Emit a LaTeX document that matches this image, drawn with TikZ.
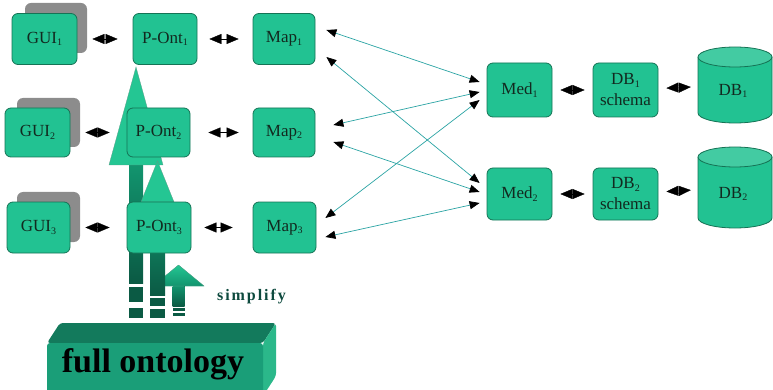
\documentclass[tikz,border=0pt]{standalone}
\usepackage{fontspec}
\setmainfont{Liberation Serif}
\newfontfamily\simpfont[LetterSpace=12]{Liberation Serif Bold}
\usetikzlibrary{calc,arrows.meta}

\definecolor{boxfill}{HTML}{22C292}
\definecolor{boxedge}{HTML}{157355}
\definecolor{boxtext}{HTML}{12291F}
\definecolor{shadowgray}{HTML}{8C8C8C}
\definecolor{linkcol}{HTML}{2AA3A3}
\definecolor{headgreen}{HTML}{24C693}
\definecolor{stemtop}{HTML}{12946E}
\definecolor{stembot}{HTML}{0B5A44}
\definecolor{cubefront}{HTML}{1A9E78}
\definecolor{cubetop}{HTML}{137A5C}
\definecolor{cuberight}{HTML}{2BB88A}
\definecolor{simplifycol}{HTML}{0E4A3E}

% lowered small index digit
\newcommand\idx[1]{\raisebox{-0.35ex}{\fontsize{10}{10}\selectfont #1}}

\begin{document}
\begin{tikzpicture}[x=1pt,y=-1pt,
  box/.style={draw=boxedge, line width=0.8pt, fill=boxfill, rounded corners=6pt,
    inner sep=0pt, text=boxtext, align=center, font=\fontsize{17}{20}\selectfont},
  biarrow/.style={line width=0.3pt,
    {Triangle[length=12pt,width=10pt]}-{Triangle[length=12pt,width=10pt]}},
  link/.style={draw=linkcol, line width=0.7pt,
    {Triangle[length=10pt,width=8pt,color=black]}-{Triangle[length=10pt,width=8pt,color=black]}},
  stem/.style={top color=stemtop, bottom color=stembot, draw=none},
  head/.style={fill=headgreen, draw=boxedge!70, line width=0.3pt},
  stripe/.style={fill=stembot, draw=none}
]
\useasboundingbox (0,0) rectangle (773,390);
\clip (0,0) rectangle (773,390);

% window stacks behind the GUI boxes
\fill[shadowgray, rounded corners=6pt] (25,3) rectangle (87,53);
\fill[shadowgray, rounded corners=6pt] (17,98) rectangle (80,147);
\fill[shadowgray, rounded corners=6pt] (17,192) rectangle (80,242);

% simplify arrows (striped block arrows)
% small arrow
\fill[stem] (172.5,286) rectangle (184.5,306);
\fill[stripe] (172.5,308) rectangle (184.5,311);
\fill[stripe] (172.5,313) rectangle (184.5,316);
\path[head, top color=headgreen, bottom color=stemtop] (153,286) -- (178.5,265) -- (204,286) -- cycle;
% long arrow to P-Ont1
\fill[stem] (129,165) rectangle (143,283);
\fill[stripe] (129,287) rectangle (143,302);
\fill[stripe] (129,308) rectangle (143,318);
\path[head] (109,165) -- (136,67) -- (163,165) -- cycle;
% arrow to P-Ont2
\fill[stem] (150,202) rectangle (165,295);
\fill[stripe] (150,298) rectangle (165,306);
\fill[stripe] (150,309) rectangle (165,318);
\path[head] (141,202) -- (157.5,161) -- (174,202) -- cycle;

% GUI / P-Ont / Map rows
\node[box, minimum width=65pt, minimum height=51pt] (gui1) at (44.5,39) {GUI\idx{1}};
\node[box, minimum width=64pt, minimum height=51pt] (po1) at (165,39) {P-Ont\idx{1}};
\node[box, minimum width=62pt, minimum height=51pt] (map1) at (284,39) {Map\idx{1}};

\node[box, minimum width=65pt, minimum height=49pt] (gui2) at (37.5,132.5) {GUI\idx{2}};
\node[box, minimum width=63pt, minimum height=49pt] (po2) at (158.5,132.5) {P-Ont\idx{2}};
\node[box, minimum width=62pt, minimum height=49pt] (map2) at (284,132.5) {Map\idx{2}};

\node[box, minimum width=63pt, minimum height=51pt] (gui3) at (38.5,227.5) {GUI\idx{3}};
\node[box, minimum width=64pt, minimum height=51pt] (po3) at (159,227.5) {P-Ont\idx{3}};
\node[box, minimum width=63pt, minimum height=51pt] (map3) at (284.5,227.5) {Map\idx{3}};

% mediators and schemas
\node[box, minimum width=65pt, minimum height=54pt] (med1) at (519.5,90) {Med\idx{1}};
\node[box, minimum width=65pt, minimum height=52pt] (med2) at (519.5,194) {Med\idx{2}};
\node[box, minimum width=65pt, minimum height=54pt, font=\fontsize{17}{21}\selectfont] (dbs1) at (625.5,90) {DB\idx{1}\\schema};
\node[box, minimum width=65pt, minimum height=52pt, font=\fontsize{17}{21}\selectfont] (dbs2) at (625.5,194) {DB\idx{2}\\schema};

% databases
\draw[boxedge, line width=0.8pt, fill=boxfill] (698,57) -- (698,113) arc[start angle=180, end angle=360, x radius=37, y radius=-10] -- (772,57);
\draw[boxedge, line width=0.8pt, fill=boxfill!85!white] (735,57) ellipse[x radius=37, y radius=10];
\node[minimum width=74pt, minimum height=76pt, inner sep=0pt] (db1) at (735,85) {};
\node[text=boxtext, font=\fontsize{17}{20}\selectfont] at (733,91) {DB\idx{1}};

\draw[boxedge, line width=0.8pt, fill=boxfill] (698,157) -- (698,218) arc[start angle=180, end angle=360, x radius=37, y radius=-10] -- (772,157);
\draw[boxedge, line width=0.8pt, fill=boxfill!85!white] (735,157) ellipse[x radius=37, y radius=10];
\node[minimum width=74pt, minimum height=81pt, inner sep=0pt] (db2) at (735,187.5) {};
\node[text=boxtext, font=\fontsize{17}{20}\selectfont] at (733,194) {DB\idx{2}};

% short two-way arrows
\draw[biarrow, shorten <=15pt, shorten >=15pt] (gui1) -- (po1);
\draw[biarrow, shorten <=12pt, shorten >=14pt] (po1) -- (map1);
\draw[biarrow, shorten <=15pt, shorten >=17pt] (gui2) -- (po2);
\draw[biarrow, shorten <=18pt, shorten >=14pt] (po2) -- (map2);
\draw[biarrow, shorten <=15pt, shorten >=17pt] (gui3) -- (po3);
\draw[biarrow, shorten <=13pt, shorten >=20pt] (po3) -- (map3);
\draw[biarrow, shorten <=8pt, shorten >=8pt] (med1) -- (dbs1);
\draw[biarrow, shorten <=8pt, shorten >=7pt] (dbs1) -- (db1);
\draw[biarrow, shorten <=8pt, shorten >=8pt] (med2) -- (dbs2);
\draw[biarrow, shorten <=8pt, shorten >=7pt] (dbs2) -- (db2);

% mapping links to mediators
\draw[link] ($(map1.east)+(11,-9)$) -- ($(med1.west)+(-7,-8)$);
\draw[link] ($(map1.east)+(11,18)$) -- ($(med2.west)+(-7,-11)$);
\draw[link] ($(map2.east)+(18,-7.5)$) -- ($(med1.west)+(-7,2)$);
\draw[link] ($(map2.east)+(18,9.5)$) -- ($(med2.west)+(-7,-2)$);
\draw[link] ($(map3.east)+(9,-9.5)$) -- ($(med1.west)+(-7,10)$);
\draw[link] ($(map3.east)+(9,9.5)$) -- ($(med2.west)+(-7,9)$);

% full ontology block
\fill[cubetop, rounded corners=3pt] (47,343) -- (60,323) -- (276,323) -- (263,343) -- cycle;
\fill[cuberight, rounded corners=3pt] (263,343) -- (276,323) -- (276,376) -- (263,396) -- cycle;
\fill[cubefront, rounded corners=3pt] (47,343) rectangle (263,396);
\node[anchor=base, inner sep=0pt, font=\bfseries\fontsize{34}{34}\selectfont] (full) at (153,372) {full ontology};

\node[anchor=base west, inner sep=0pt, text=simplifycol, font=\simpfont\fontsize{16}{16}\selectfont] (simp) at (217,300) {simplify};
\end{tikzpicture}
\end{document}
